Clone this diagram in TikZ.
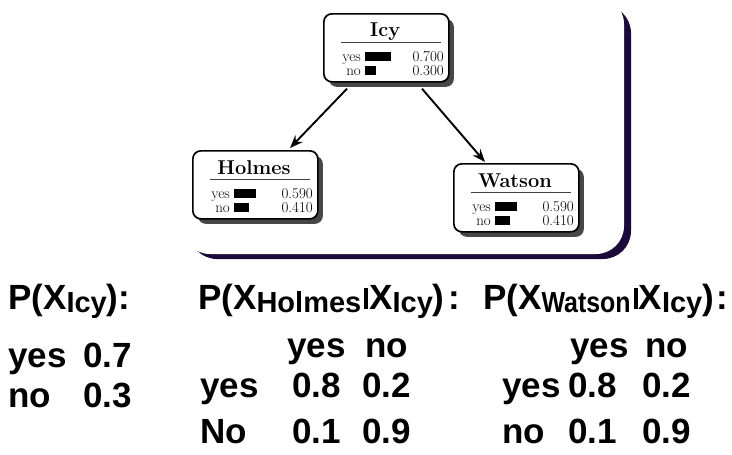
\documentclass[tikz,border=0pt]{standalone}
\usepackage{fontspec}
\newfontfamily\arialfont{Liberation Sans}
\usetikzlibrary{arrows.meta,calc,shadows}
\definecolor{framecol}{HTML}{1C0B3A}
\newcommand\subtx[1]{\raisebox{-3pt}{\fontsize{29}{29}\selectfont #1}}
\newcommand\condbar{\hspace{3pt}\rule{4pt}{21pt}\hspace{1pt}}
\tikzset{
  x=1pt, y=-1pt,
  bnbox/.style={draw=black, line width=1.7pt, rounded corners=8pt, fill=white,
    minimum width=125pt, minimum height=68pt, inner sep=0pt, anchor=north west,
    drop shadow={shadow xshift=5pt, shadow yshift=-5pt, fill=black!72, opacity=1}},
  ttl/.style={font=\bfseries\fontsize{20}{20}\selectfont, inner sep=0pt, anchor=base},
  sm/.style={font=\fontsize{15}{15}\selectfont, inner sep=0pt, anchor=base east},
  rulel/.style={line width=0.8pt, black!75},
  arr/.style={line width=1.9pt, -{Stealth[length=13pt,width=10pt,inset=4.5pt]}},
  tx/.style={font=\arialfont\bfseries\fontsize{35}{35}\selectfont, inner sep=0pt, anchor=base west},
}
\newcommand\bnnode[7]{%
  \node[bnbox] (#1) at (#2,#3) {};
  \node[ttl] (#1-t) at ($(#1.north west)+(62,24)$) {#4};
  \draw[rulel] ($(#1.north west)+(18,29)$) -- ($(#1.north west)+(118,29)$);
  \node[sm] (#1-yl) at ($(#1.north west)+(38,48)$) {yes};
  \node[sm] (#1-nl) at ($(#1.north west)+(38,62)$) {no};
  \fill ($(#1.north west)+(42,48)$) rectangle ++({37*#5},-9);
  \fill ($(#1.north west)+(42,62)$) rectangle ++({37*(1-#5)},-9);
  \node[sm] (#1-yv) at ($(#1.north west)+(121,48)$) {#6};
  \node[sm] (#1-nv) at ($(#1.north west)+(121,62)$) {#7};
}
\begin{document}
\begin{tikzpicture}
\useasboundingbox (0,0) rectangle (732,455);
% frame with shadow
\fill[framecol, rounded corners=28pt] (189,5) rectangle (631,259);
\fill[white, rounded corners=28pt] (182,-4) rectangle (624,254);
% network
\bnnode{Icy}{323}{13}{Icy}{0.7}{0.700}{0.300}
\bnnode{Holmes}{192}{150}{Holmes}{0.59}{0.590}{0.410}
\bnnode{Watson}{453}{163}{Watson}{0.59}{0.590}{0.410}
\draw[arr] ($(Icy.south west)+(24,6)$) -- ($(Holmes.north west)+(98,-2)$);
\draw[arr] ($(Icy.south west)+(99,6)$) -- ($(Watson.north west)+(32,-1)$);
% tables
\node[tx] (t1) at (8,309) {P(X\subtx{Icy}):};
\node[tx] (t1y) at (8,367) {yes};
\node[tx] (t1yv) at (83,367) {0.7};
\node[tx] (t1n) at (8,407) {no};
\node[tx] (t1nv) at (83,407) {0.3};
\node[tx] (t2) at (198,309) {P(X\subtx{Holmes}\condbar X\subtx{Icy})\hspace{4pt}:};
\node[tx] (t2hy) at (287,357) {yes};
\node[tx] (t2hn) at (365,357) {no};
\node[tx] (t2ry) at (200,397) {yes};
\node[tx] (t2a) at (292,397) {0.8};
\node[tx] (t2b) at (362,397) {0.2};
\node[tx] (t2rn) at (200,443) {No};
\node[tx] (t2c) at (292,443) {0.1};
\node[tx] (t2d) at (362,443) {0.9};
\node[tx] (t3) at (483,309) {P(X\subtx{\scalebox{0.86}[1]{Watson}}\condbar X\subtx{Icy})\hspace{3pt}:};
\node[tx] (t3hy) at (570,357) {yes};
\node[tx] (t3hn) at (645,357) {no};
\node[tx] (t3ry) at (502,397) {yes};
\node[tx] (t3a) at (568,397) {0.8};
\node[tx] (t3b) at (642,397) {0.2};
\node[tx] (t3rn) at (502,443) {no};
\node[tx] (t3c) at (568,443) {0.1};
\node[tx] (t3d) at (642,443) {0.9};
\end{tikzpicture}
\end{document}
